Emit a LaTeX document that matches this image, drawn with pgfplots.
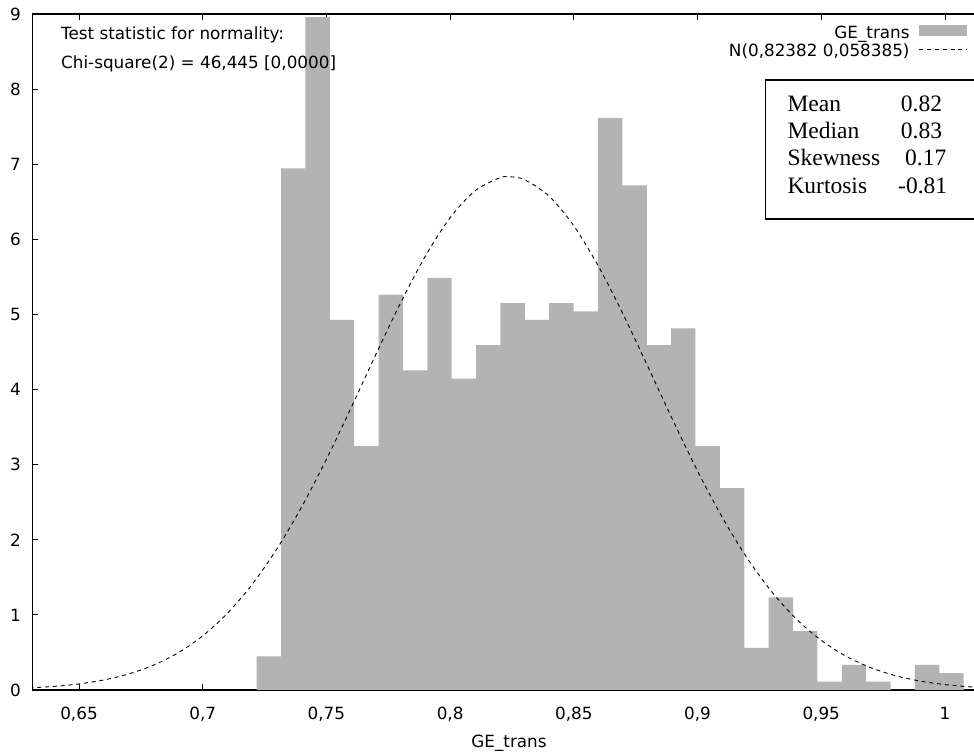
\documentclass[border=0pt]{standalone}
\usepackage{fontspec}
\setmainfont{DejaVu Sans}
\newfontfamily\statfont{Liberation Serif}
\usepackage{pgfplots}
\pgfplotsset{compat=1.18}
\definecolor{barcol}{RGB}{179,179,179}
\newcommand\lblfont{\fontsize{16.8}{20}\selectfont}
\newcommand\statsize{\statfont\fontsize{23.5}{27}\selectfont}
\begin{document}
\begin{tikzpicture}
\clip (-32.3pt,-64pt) rectangle (941.7pt,690pt);
\begin{axis}[
  at={(0pt,0pt)}, anchor=south west, scale only axis,
  width=941.7pt, height=676pt,
  xmin=0.63112, xmax=1.01176, ymin=0, ymax=9,
  axis x line*=box, axis y line*=left,
  axis line style={line width=1.1pt, black},
  tick align=inside, xtick pos=both, ytick pos=left,
  xticklabel pos=lower,
  major tick length=6pt,
  tick style={line width=0.8pt, black},
  xtick={0.65,0.7,0.75,0.8,0.85,0.9,0.95,1},
  xticklabels={{0,65},{0,7},{0,75},{0,8},{0,85},{0,9},{0,95},1},
  ytick={0,1,2,3,4,5,6,7,8,9},
  yticklabels={0,1,2,3,4,5,6,7,8,9},
  tick label style={font=\lblfont},
  xticklabel style={anchor=base, yshift=-29.5pt},
  yticklabel style={anchor=east, inner sep=0pt, xshift=-11.3pt},
  xlabel={GE\_trans},
  xlabel style={font=\lblfont, at={(axis description cs:0.5062,0)}, anchor=base, yshift=-57.7pt},
  legend plot pos=right,
  legend cell align=right,
  legend style={draw=none, fill=none, inner sep=0pt, at={(0.9933,0.9837)}, anchor=north east,
    font=\lblfont, row sep=4pt, nodes={inner sep=0pt},
    /tikz/every odd column/.append style={column sep=9.3pt}},
]
\addplot[ybar interval, fill=barcol, draw=none,
  legend image code/.code={\fill[barcol] (0pt,-3.0pt) rectangle (47.7pt,7.7pt);}]
  table {
x y
0.72183 0.448
0.73168 6.944
0.74154 8.960
0.75139 4.928
0.76124 3.248
0.77110 5.264
0.78095 4.256
0.79080 5.488
0.80065 4.144
0.81051 4.592
0.82036 5.152
0.83021 4.928
0.84007 5.152
0.84992 5.040
0.85977 7.616
0.86963 6.720
0.87948 4.592
0.88933 4.816
0.89918 3.248
0.90904 2.688
0.91889 0.560
0.92874 1.232
0.93860 0.784
0.94845 0.112
0.95830 0.336
0.96816 0.112
0.97801 0
0.98786 0.336
0.99771 0.224
1.00757 0
};
\addlegendentry{GE\_trans}
\addplot[black, line width=0.9pt, dash pattern=on 4pt off 3.8pt, smooth,
  legend image code/.code={\draw[black, line width=0.9pt, dash pattern=on 4pt off 3.8pt] (0pt,2.0pt) -- (47.7pt,2.0pt);}]
  coordinates {
(0.63,0.0276)(0.64,0.0481)(0.65,0.0813)(0.66,0.1334)(0.67,0.2125)(0.68,0.3289)
(0.69,0.4942)(0.70,0.7209)(0.71,1.0217)(0.72,1.4060)(0.73,1.8789)(0.74,2.4381)
(0.75,3.0723)(0.76,3.7596)(0.77,4.4680)(0.78,5.1557)(0.79,5.7777)(0.80,6.2873)
(0.81,6.6443)(0.82,6.8184)(0.82382,6.8330)(0.83,6.7948)(0.84,6.5755)(0.85,6.1794)
(0.86,5.6393)(0.87,4.9976)(0.88,4.3009)(0.89,3.5943)(0.90,2.9169)(0.91,2.2989)
(0.92,1.7593)(0.93,1.3074)(0.94,0.9435)(0.95,0.6612)(0.96,0.4500)(0.97,0.2975)
(0.98,0.1909)(0.99,0.1190)(1.00,0.0720)(1.01,0.0423)(1.02,0.0242)
};
\addlegendentry{N(0,82382 0,058385)}
\end{axis}
\node[anchor=base west, font=\lblfont, inner sep=0pt] at (28.7pt,650.7pt) {Test statistic for normality:};
\node[anchor=base west, font=\lblfont, inner sep=0pt] at (28.7pt,621.7pt) {Chi-square(2) = 46,445 [0,0000]};
\draw[line width=1.2pt] (960pt,471pt) -- (733.4pt,471pt) -- (733.4pt,610pt) -- (960pt,610pt);
\node[anchor=base west, font=\statsize, inner sep=0pt] at (755pt,578.3pt) {Mean};
\node[anchor=base west, font=\statsize, inner sep=0pt] at (755pt,551.7pt) {Median};
\node[anchor=base west, font=\statsize, inner sep=0pt] at (755pt,524.3pt) {Skewness};
\node[anchor=base west, font=\statsize, inner sep=0pt] at (755pt,496pt) {Kurtosis};
\node[anchor=base west, font=\statsize, inner sep=0pt] at (868.4pt,578.3pt) {0.82};
\node[anchor=base west, font=\statsize, inner sep=0pt] at (868.4pt,551.7pt) {0.83};
\node[anchor=base west, font=\statsize, inner sep=0pt] at (872.7pt,524.3pt) {0.17};
\node[anchor=base west, font=\statsize, inner sep=0pt] at (865.7pt,496pt) {-0.81};
\end{tikzpicture}
\end{document}
